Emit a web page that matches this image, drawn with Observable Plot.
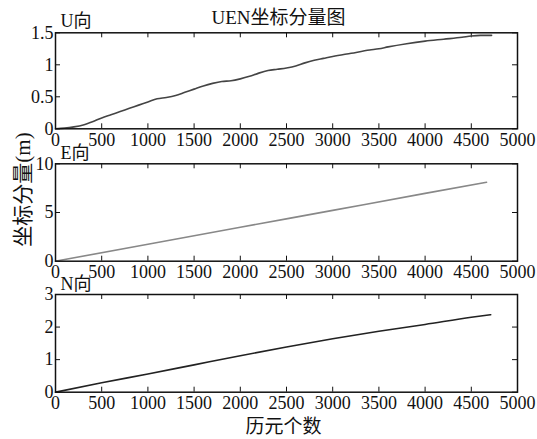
<!DOCTYPE html>
<html><head><meta charset="utf-8">
<script src="https://cdn.jsdelivr.net/npm/d3@7"></script>
<script src="https://cdn.jsdelivr.net/npm/@observablehq/plot@0.6"></script>
<style>
body{margin:0;background:#fff}
#chart{position:relative;width:537px;height:439px}
#chart svg{position:absolute;left:0;top:0}
</style>
</head><body><div id="chart"></div>
<script>
// ---- data ----
const title = "UEN坐标分量图";
const yTitle = "坐标分量(m)";
const xTitle = "历元个数";
const panelLabels = ["U向", "E向", "N向"];
const xTicks = [0, 500, 1000, 1500, 2000, 2500, 3000, 3500, 4000, 4500, 5000];
const uTicks = [0, 0.5, 1, 1.5];
const eTicks = [0, 5, 10];
const nTicks = [0, 1, 2, 3];
const uEpoch = [0, 100, 200, 300, 400, 500, 600, 700, 800, 900, 1000, 1100, 1200, 1300, 1400, 1500, 1600, 1700, 1800, 1900, 2000, 2100, 2200, 2300, 2400, 2500, 2600, 2700, 2800, 2900, 3000, 3200, 3400, 3500, 3600, 3800, 4000, 4200, 4400, 4500, 4600, 4720];
const uVal = [0, 0.01, 0.03, 0.06, 0.11, 0.17, 0.22, 0.27, 0.32, 0.37, 0.42, 0.47, 0.49, 0.52, 0.57, 0.62, 0.67, 0.71, 0.74, 0.75, 0.78, 0.82, 0.87, 0.91, 0.93, 0.95, 0.98, 1.03, 1.07, 1.10, 1.13, 1.18, 1.23, 1.25, 1.28, 1.33, 1.37, 1.40, 1.43, 1.45, 1.46, 1.46];
const eEpoch = [0, 1000, 2000, 3000, 4000, 4665];
const eVal = [0, 1.74, 3.48, 5.22, 6.96, 8.11];
const nEpoch = [0, 500, 1000, 1500, 2000, 2500, 3000, 3500, 4000, 4500, 4710];
const nVal = [0, 0.29, 0.56, 0.84, 1.12, 1.39, 1.64, 1.87, 2.08, 2.30, 2.38];

// ---- drawing ----
const font = "'Liberation Serif', 'Noto Sans CJK SC', serif";
const W = 537, H = 439, ML = 55, MR = 20;
const frameW = W - ML - MR;
const chart = document.getElementById("chart");
const txt = (s, o) => Plot.text([s], {lineAnchor: "middle", fill: "#111", fontFamily: font, ...o});

function panel({xs, ys, ticks, domain, top, bottom, color, label, labelDy, extra = []}) {
  const data = xs.map((d, i) => ({epoch: d, value: ys[i]}));
  const frameH = bottom - top;
  return Plot.plot({
    width: W, height: H,
    marginLeft: ML, marginRight: MR, marginTop: top, marginBottom: H - bottom,
    x: {domain: [0, 5000], label: null},
    y: {domain, label: null},
    style: {background: "none", fontFamily: font, fontSize: "18px", color: "#111", overflow: "visible"},
    marks: [
      Plot.axisX({ticks: xTicks, tickSize: 0, tickPadding: 4, tickFormat: d => String(d), fontSize: 18, fontFamily: font, label: null}),
      Plot.axisY({ticks, tickSize: 0, tickPadding: 2, tickFormat: d => String(d), fontSize: 18, fontFamily: font, label: null}),
      Plot.tickX(xTicks, {x: d => d, insetTop: frameH - 5, stroke: "#111"}),
      Plot.tickX(xTicks, {x: d => d, insetBottom: frameH - 5, stroke: "#111"}),
      Plot.tickY(ticks, {y: d => d, insetRight: frameW - 5, stroke: "#111"}),
      Plot.tickY(ticks, {y: d => d, insetLeft: frameW - 5, stroke: "#111"}),
      Plot.line(data, {x: "epoch", y: "value", stroke: color, strokeWidth: 1.6, curve: "monotone-x"}),
      Plot.frame({stroke: "#111", strokeWidth: 1.5}),
      txt(label, {frameAnchor: "top-left", textAnchor: "start", dx: 5, dy: labelDy, fontSize: 18}),
      ...extra
    ]
  });
}

chart.append(panel({
  xs: uEpoch, ys: uVal, ticks: uTicks, domain: [0, 1.5], top: 32.3, bottom: 128.3,
  color: "#444", label: panelLabels[0], labelDy: -12,
  extra: [txt(title, {frameAnchor: "top", textAnchor: "middle", dx: -8, dy: -15, fontSize: 19})]
}));
chart.append(panel({
  xs: eEpoch, ys: eVal, ticks: eTicks, domain: [0, 10], top: 163.3, bottom: 260.7,
  color: "#888", label: panelLabels[1], labelDy: -11,
  extra: [txt(yTitle, {frameAnchor: "left", textAnchor: "middle", dx: -32, dy: -23, rotate: -90, fontSize: 21})]
}));
chart.append(panel({
  xs: nEpoch, ys: nVal, ticks: nTicks, domain: [0, 3], top: 294, bottom: 391.7,
  color: "#222", label: panelLabels[2], labelDy: -10,
  extra: [txt(xTitle, {frameAnchor: "bottom", textAnchor: "middle", dx: -3, dy: 35, fontSize: 19})]
}));
</script>
</body></html>
